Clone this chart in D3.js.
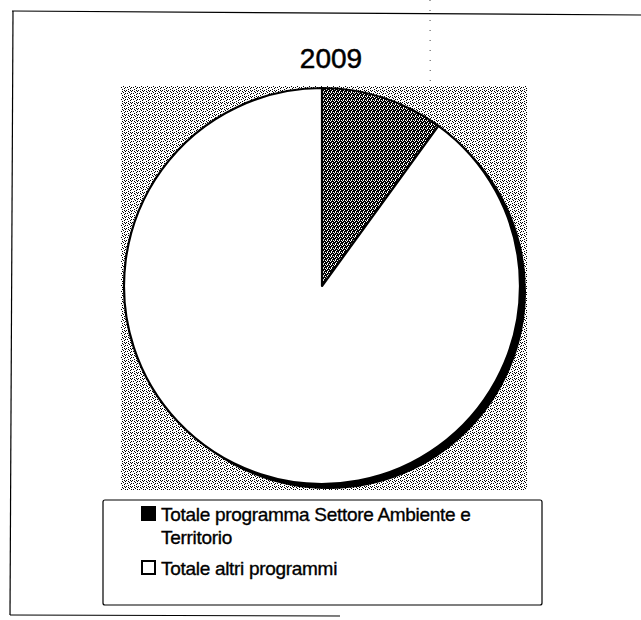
<!DOCTYPE html>
<html>
<head>
<meta charset="utf-8">
<script src="https://cdn.jsdelivr.net/npm/d3@7"></script>
<style>
  html, body { margin: 0; padding: 0; background: #fff; }
  svg { display: block; }
</style>
</head>
<body>
<svg id="chart" width="641" height="620"></svg>
<script>
// ---- data ----
const title = "2009";
const categories = ["Totale programma Settore Ambiente e Territorio", "Totale altri programmi"];
const values = [10, 90];
const sliceFills = ["url(#darkPat)", "#ffffff"];
const legendFills = ["#000000", "#ffffff"];

const svg = d3.select("#chart");
const W = 641, H = 620;

// patterns imitating the dithered print
const defs = svg.append("defs");
function dither(id, pts, size) {
  const p = defs.append("pattern").attr("id", id).attr("patternUnits", "userSpaceOnUse")
    .attr("width", size).attr("height", size);
  p.append("rect").attr("width", size).attr("height", size).attr("fill", "#fff");
  pts.forEach(([x, y]) => p.append("rect").attr("x", x).attr("y", y).attr("width", 1).attr("height", 1)
    .attr("fill", "#000").attr("shape-rendering", "crispEdges"));
}
dither("lightPat", [[0,0],[2,1],[1,3],[3,2],[4,4],[5,1],[2,5],[5,3],[4,0]], 6);
dither("darkPat", [[0,0],[1,0],[2,1],[3,1],[0,2],[1,3],[2,2],[3,3],[0,1],[2,3],[3,0]], 4);

// outer frame (partial, as in the scan)
const frame = svg.append("g").attr("stroke", "#000").attr("stroke-width", 1.2).attr("fill", "none");
frame.append("line").attr("x1", 12).attr("y1", 11).attr("x2", W).attr("y2", 15);
frame.append("line").attr("x1", 13).attr("y1", 11).attr("x2", 10).attr("y2", 615);
frame.append("line").attr("x1", 10).attr("y1", 615).attr("x2", 340).attr("y2", 616);

// fold artefact (dotted vertical)
svg.append("line").attr("x1", 430).attr("y1", 0).attr("x2", 431).attr("y2", 368)
  .attr("stroke", "#444").attr("stroke-width", 1).attr("stroke-dasharray", "1,9");

const font = "'Liberation Sans', Arial, sans-serif";

// title
svg.append("text").attr("x", 331).attr("y", 68).attr("text-anchor", "middle")
  .attr("font-family", font).attr("font-size", 28)
  .attr("fill", "#000").attr("stroke", "#000").attr("stroke-width", 0.5).text(title);

// plot area
const plot = { x0: 121, y0: 86, x1: 527, y1: 490 };
svg.append("rect").attr("x", plot.x0).attr("y", plot.y0)
  .attr("width", plot.x1 - plot.x0).attr("height", plot.y1 - plot.y0)
  .attr("fill", "url(#lightPat)");

const cx = 322, cy = 286, r = 198;
// shadow giving the thick lower-right rim
svg.append("circle").attr("cx", cx + 6).attr("cy", cy + 5).attr("r", r).attr("fill", "#000");

const pie = d3.pie().sort(null).value(d => d)(values);
const arc = d3.arc().innerRadius(0).outerRadius(r);
const g = svg.append("g").attr("transform", `translate(${cx},${cy})`);
g.selectAll("path").data(pie).join("path")
  .attr("d", arc)
  .attr("fill", (d, i) => sliceFills[i])
  .attr("stroke", "#000").attr("stroke-width", 2.2).attr("stroke-linejoin", "round");

// legend
const lg = { x0: 103, y0: 500, x1: 542, y1: 605 };
svg.append("rect").attr("x", lg.x0).attr("y", lg.y0)
  .attr("width", lg.x1 - lg.x0).attr("height", lg.y1 - lg.y0)
  .attr("fill", "#fff").attr("stroke", "#000").attr("stroke-width", 1.2)
  .attr("rx", 2);

const fs = 19, lineH = 23, maxW = 365;
const textX = 161, boxX = 142, boxS = 13;
let baseline = 521;
categories.forEach((name, i) => {
  const t = svg.append("text").attr("x", textX).attr("y", baseline)
    .attr("font-family", font).attr("font-size", fs).attr("fill", "#000")
    .attr("stroke", "#000").attr("stroke-width", 0.35).attr("letter-spacing", -0.3);
  const words = name.split(" ");
  let line = [], tspan = t.append("tspan").attr("x", textX).attr("y", baseline), lines = 1;
  words.forEach(w => {
    line.push(w);
    tspan.text(line.join(" "));
    if (tspan.node().getComputedTextLength() > maxW && line.length > 1) {
      line.pop();
      tspan.text(line.join(" "));
      line = [w];
      tspan = t.append("tspan").attr("x", textX).attr("y", baseline + lines * lineH).text(w);
      lines++;
    }
  });
  svg.append("rect").attr("x", boxX).attr("y", baseline - 14).attr("width", boxS).attr("height", boxS)
    .attr("fill", legendFills[i]).attr("stroke", "#000").attr("stroke-width", 2);
  baseline += lines * lineH + 8;
});
</script>
</body>
</html>
